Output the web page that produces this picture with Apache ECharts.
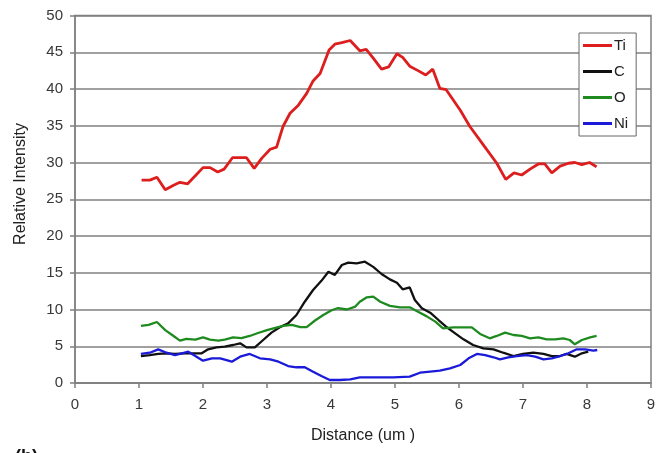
<!DOCTYPE html>
<html>
<head>
<meta charset="utf-8">
<script src="https://cdn.jsdelivr.net/npm/echarts@6/dist/echarts.min.js"></script>
<style>
  html, body { margin: 0; padding: 0; background: #ffffff; }
  #chart { width: 668px; height: 453px; }
</style>
</head>
<body>
<div id="chart"></div>
<script>
// Line-scan profiles: [distance (um), relative intensity]
const ti = [
  [1.04, 27.6], [1.17, 27.6], [1.28, 28.0], [1.41, 26.3], [1.54, 26.9], [1.64, 27.3],
  [1.76, 27.1], [1.88, 28.2], [2.00, 29.3], [2.11, 29.3], [2.23, 28.7], [2.33, 29.1],
  [2.46, 30.65], [2.68, 30.65], [2.80, 29.2], [2.92, 30.6], [3.05, 31.8], [3.15, 32.1],
  [3.25, 34.9], [3.36, 36.7], [3.49, 37.8], [3.62, 39.4], [3.72, 41.1], [3.83, 42.1],
  [3.97, 45.3], [4.06, 46.1], [4.17, 46.3], [4.30, 46.6], [4.45, 45.2], [4.55, 45.4],
  [4.66, 44.2], [4.79, 42.7], [4.90, 43.0], [5.03, 44.8], [5.12, 44.3], [5.23, 43.1],
  [5.36, 42.5], [5.48, 41.9], [5.59, 42.7], [5.70, 40.1], [5.80, 39.9], [6.02, 37.1],
  [6.17, 34.9], [6.38, 32.4], [6.59, 29.9], [6.73, 27.7], [6.86, 28.6], [6.98, 28.3],
  [7.11, 29.1], [7.24, 29.8], [7.34, 29.8], [7.45, 28.6], [7.58, 29.5], [7.71, 29.9],
  [7.81, 30.0], [7.92, 29.7], [8.04, 30.0], [8.15, 29.4]
];

const c = [
  [1.03, 3.67], [1.17, 3.8], [1.30, 3.95], [1.43, 4.04], [1.56, 3.95], [1.72, 4.04],
  [1.85, 4.04], [1.98, 4.04], [2.08, 4.58], [2.21, 4.85], [2.34, 4.94], [2.47, 5.17],
  [2.58, 5.4], [2.68, 4.85], [2.81, 4.85], [2.94, 5.85], [3.07, 6.85], [3.20, 7.58],
  [3.33, 8.12], [3.46, 9.25], [3.59, 11.06], [3.72, 12.65], [3.85, 13.9], [3.96, 15.14],
  [4.06, 14.7], [4.17, 16.05], [4.27, 16.37], [4.40, 16.28], [4.53, 16.5], [4.66, 15.8],
  [4.79, 14.83], [4.92, 14.1], [5.03, 13.65], [5.12, 12.75], [5.23, 13.0], [5.31, 11.3],
  [5.42, 10.16], [5.55, 9.57], [5.68, 8.57], [5.81, 7.58], [5.94, 6.76], [6.07, 5.94],
  [6.22, 5.17], [6.38, 4.72], [6.54, 4.58], [6.69, 4.12], [6.85, 3.67], [7.00, 3.95],
  [7.16, 4.12], [7.32, 3.95], [7.45, 3.67], [7.58, 3.67], [7.68, 3.95], [7.81, 3.58],
  [7.92, 4.04], [8.02, 4.26]
];

const o = [
  [1.03, 7.76], [1.15, 7.9], [1.28, 8.3], [1.41, 7.2], [1.54, 6.4], [1.64, 5.76],
  [1.74, 6.0], [1.88, 5.9], [2.00, 6.2], [2.11, 5.9], [2.24, 5.76], [2.34, 5.9],
  [2.47, 6.2], [2.60, 6.1], [2.73, 6.4], [2.86, 6.8], [3.00, 7.2], [3.13, 7.5],
  [3.25, 7.76], [3.39, 7.9], [3.52, 7.6], [3.62, 7.6], [3.75, 8.5], [3.88, 9.25],
  [4.01, 9.9], [4.11, 10.2], [4.25, 10.0], [4.38, 10.4], [4.45, 11.06], [4.56, 11.66],
  [4.66, 11.75], [4.77, 11.06], [4.92, 10.5], [5.08, 10.3], [5.23, 10.3], [5.36, 9.7],
  [5.49, 9.1], [5.63, 8.35], [5.75, 7.44], [5.91, 7.58], [6.04, 7.58], [6.20, 7.58],
  [6.33, 6.67], [6.48, 6.08], [6.59, 6.4], [6.72, 6.85], [6.85, 6.53], [6.98, 6.4],
  [7.11, 6.08], [7.24, 6.2], [7.37, 5.94], [7.50, 5.94], [7.63, 6.08], [7.73, 5.85],
  [7.81, 5.26], [7.92, 5.85], [8.05, 6.2], [8.15, 6.4]
];

const ni = [
  [1.03, 3.95], [1.17, 4.12], [1.30, 4.58], [1.43, 4.12], [1.56, 3.8], [1.67, 4.04],
  [1.77, 4.26], [1.88, 3.67], [2.00, 3.03], [2.14, 3.36], [2.27, 3.36], [2.45, 2.9],
  [2.58, 3.58], [2.73, 3.95], [2.89, 3.36], [3.05, 3.22], [3.18, 2.9], [3.33, 2.31],
  [3.46, 2.14], [3.59, 2.14], [3.72, 1.54], [3.85, 0.95], [3.98, 0.41], [4.14, 0.41],
  [4.30, 0.5], [4.45, 0.77], [4.71, 0.77], [4.97, 0.77], [5.23, 0.86], [5.39, 1.4],
  [5.55, 1.54], [5.70, 1.67], [5.86, 2.0], [6.02, 2.45], [6.15, 3.36], [6.28, 3.95],
  [6.41, 3.8], [6.54, 3.5], [6.64, 3.22], [6.77, 3.5], [6.90, 3.67], [7.06, 3.8],
  [7.19, 3.58], [7.32, 3.22], [7.45, 3.36], [7.58, 3.67], [7.71, 4.04], [7.84, 4.58],
  [7.97, 4.58], [8.10, 4.39], [8.16, 4.49]
];

const seriesNames = ['Ti', 'C', 'O', 'Ni'];
const seriesData = [ti, c, o, ni];
const seriesColors = ['#dd1e1e', '#111111', '#1f8a1f', '#1a1ad8'];
const seriesWidths = [2.8, 2.3, 2.3, 2.3];

const xTitle = 'Distance (um )';
const yTitle = 'Relative Intensity';
const panelTag = '(b)';

const FONT = '"Liberation Sans", Arial, sans-serif';
const GRID_GRAY = '#808080';

const chart = echarts.init(document.getElementById('chart'), null, { renderer: 'canvas' });

chart.setOption({
  animation: false,
  backgroundColor: '#ffffff',
  textStyle: { fontFamily: FONT },
  grid: {
    left: 75, right: 17, top: 15.5, bottom: 70,
    show: true, borderColor: GRID_GRAY, borderWidth: 1.5,
    containLabel: false
  },
  legend: {
    orient: 'vertical',
    left: 579, top: 33,
    padding: [5, 8, 5, 4],
    itemGap: 11,
    itemWidth: 29, itemHeight: 3,
    icon: 'rect',
    backgroundColor: '#ffffff',
    borderColor: '#666666', borderWidth: 1,
    textStyle: { fontFamily: FONT, fontSize: 15, lineHeight: 13, color: '#222222', padding: [0, 0, 0, -3] },
    data: seriesNames
  },
  xAxis: {
    type: 'value',
    min: 0, max: 9, interval: 1,
    name: xTitle,
    nameLocation: 'middle',
    nameGap: 45,
    nameTextStyle: { fontFamily: FONT, fontSize: 16, color: '#222222' },
    axisLine: { show: true, lineStyle: { color: GRID_GRAY, width: 1.5 } },
    axisTick: { show: true, length: 5, lineStyle: { color: GRID_GRAY, width: 1.5 } },
    axisLabel: { fontFamily: FONT, fontSize: 15, color: '#383838', margin: 14 },
    splitLine: { show: false }
  },
  yAxis: {
    type: 'value',
    min: 0, max: 50, interval: 5,
    axisLine: { show: true, lineStyle: { color: GRID_GRAY, width: 1.5 } },
    axisTick: { show: true, length: 5, lineStyle: { color: GRID_GRAY, width: 1.5 } },
    axisLabel: { fontFamily: FONT, fontSize: 15, color: '#383838', margin: 12 },
    splitLine: { show: true, lineStyle: { color: GRID_GRAY, width: 1.5 } }
  },
  graphic: [
    {
      type: 'text',
      x: 21, y: 184,
      rotation: Math.PI / 2,
      style: {
        text: yTitle,
        font: '16px ' + FONT,
        fill: '#222222',
        textAlign: 'center',
        textVerticalAlign: 'middle'
      }
    },
    {
      type: 'text',
      x: 15, y: 448,
      style: {
        text: panelTag,
        font: 'bold 18px ' + FONT,
        fill: '#111111',
        textAlign: 'left',
        textVerticalAlign: 'top'
      }
    }
  ],
  series: seriesNames.map((name, i) => ({
    name: name,
    type: 'line',
    data: seriesData[i],
    showSymbol: false,
    symbol: 'none',
    smooth: false,
    lineStyle: { color: seriesColors[i], width: seriesWidths[i] },
    itemStyle: { color: seriesColors[i] },
    emphasis: { disabled: true }
  }))
});
</script>
</body>
</html>
